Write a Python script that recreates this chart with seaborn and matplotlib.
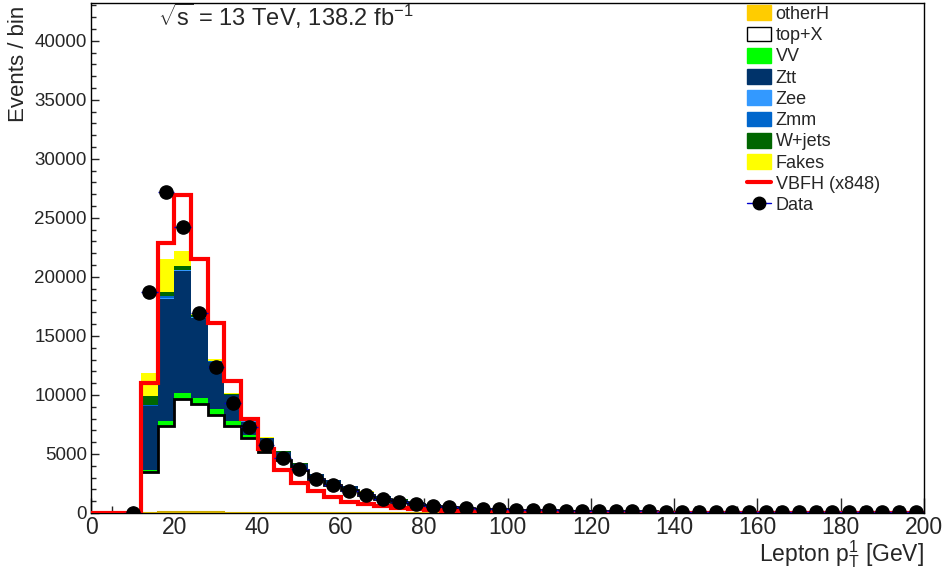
import numpy as np
import pandas as pd
import matplotlib
matplotlib.use("Agg")
import matplotlib.pyplot as plt
from matplotlib.patches import Patch
from matplotlib.lines import Line2D
from matplotlib.ticker import MultipleLocator
import seaborn as sns

# bins of 4 GeV from 8 to 200 GeV
edges = np.arange(8, 201, 4)
centers = edges[:-1] + 2

data = [0, 18700, 27200, 24200, 16900, 12350, 9300, 7300, 5800, 4650, 3730, 2850,
        2350, 1890, 1500, 1190, 930, 720, 620, 480, 380, 340, 310, 280,
        250, 225, 200, 185, 170, 158, 146, 135, 125, 116, 108, 100,
        95, 90, 85, 80, 75, 70, 66, 62, 59, 56, 53, 50]
vbfh = [0, 10990, 22900, 26950, 21500, 16080, 11210, 7940, 5450, 3680, 2520, 1890,
        1330, 960, 760, 590, 450, 350, 260, 180, 130, 100, 70, 55,
        45, 38, 32, 28, 24, 21, 18, 16, 14, 12, 11, 10,
        9, 8, 7, 7, 6, 6, 5, 5, 5, 4, 4, 4]
otherH = [0, 30, 50, 60, 50, 45, 40, 35, 30, 25, 20, 18,
          15, 12, 10, 8, 7, 6, 5, 4, 3, 3, 2, 2,
          1, 1, 1, 1, 1, 1, 1, 1, 1, 1, 1, 1,
          0, 0, 0, 0, 0, 0, 0, 0, 0, 0, 0, 0]
topX = [0, 3420, 7310, 9580, 9200, 8250, 7300, 6330, 5150, 4500, 3600, 2850,
        2350, 1900, 1500, 1200, 940, 740, 620, 490, 390, 340, 305, 275,
        245, 222, 198, 183, 168, 156, 144, 133, 123, 114, 106, 98,
        93, 88, 83, 78, 73, 68, 64, 60, 57, 54, 51, 48]
vv = [0, 220, 430, 560, 460, 480, 440, 270, 250, 130, 120, 100,
      90, 80, 65, 50, 40, 32, 26, 20, 16, 14, 12, 11,
      10, 9, 9, 8, 8, 7, 7, 6, 6, 5, 5, 5,
      4, 4, 4, 4, 3, 3, 3, 3, 3, 3, 3, 3]
ztt = [0, 5360, 10360, 10310, 6840, 4000, 2200, 1100, 900, 520, 420, 330,
       300, 270, 230, 190, 150, 120, 95, 75, 60, 50, 42, 36,
       32, 29, 26, 24, 22, 20, 18, 17, 16, 15, 14, 13,
       12, 11, 10, 10, 9, 9, 8, 8, 8, 7, 7, 7]
zee = [0, 60, 90, 50, 40, 30, 20, 15, 12, 10, 8, 6,
       5, 4, 3, 3, 2, 2, 2, 1, 1, 1, 1, 1,
       0, 0, 0, 0, 0, 0, 0, 0, 0, 0, 0, 0,
       0, 0, 0, 0, 0, 0, 0, 0, 0, 0, 0, 0]
zmm = [0, 90, 110, 60, 40, 30, 20, 15, 12, 10, 8, 6,
       5, 4, 3, 3, 2, 2, 2, 1, 1, 1, 1, 1,
       0, 0, 0, 0, 0, 0, 0, 0, 0, 0, 0, 0,
       0, 0, 0, 0, 0, 0, 0, 0, 0, 0, 0, 0]
wjets = [0, 710, 400, 290, 100, 80, 60, 40, 30, 25, 20, 15,
         12, 10, 8, 6, 5, 4, 3, 3, 2, 2, 2, 2,
         1, 1, 1, 1, 1, 1, 1, 1, 1, 1, 1, 1,
         1, 1, 1, 1, 1, 1, 1, 1, 1, 1, 1, 1]
fakes = [0, 1980, 2740, 1250, 120, 130, 60, 40, 30, 25, 20, 15,
         12, 10, 8, 6, 5, 4, 3, 3, 2, 2, 2, 2,
         0, 0, 0, 0, 0, 0, 0, 0, 0, 0, 0, 0,
         0, 0, 0, 0, 0, 0, 0, 0, 0, 0, 0, 0]

procs = ["otherH", "top+X", "VV", "Ztt", "Zee", "Zmm", "W+jets", "Fakes"]
values = [otherH, topX, vv, ztt, zee, zmm, wjets, fakes]
colors = {"otherH": "#ffcc00", "top+X": "#ffffff", "VV": "#00ff00", "Ztt": "#00336a",
          "Zee": "#3399ff", "Zmm": "#0066cc", "W+jets": "#006600", "Fakes": "#ffff00"}

rows = []
for name, vals in zip(procs, values):
    for c, v in zip(centers, vals):
        rows.append((float(c), float(v), name))
df = pd.DataFrame(rows, columns=["pt", "w", "process"])

sns.set_style("ticks")
plt.rcParams["font.family"] = ["Liberation Sans", "DejaVu Sans"]
plt.rcParams["mathtext.fontset"] = "custom"
plt.rcParams["mathtext.rm"] = "Liberation Sans"
plt.rcParams["mathtext.it"] = "Liberation Sans:italic"

fig = plt.figure(figsize=(9.49, 5.74), dpi=100)
ax = fig.add_axes([0.0959, 0.1063, 0.8778, 0.8885])

# seaborn stacks the first hue level on top, so give it top-down
sns.histplot(data=df, x="pt", weights="w", hue="process", hue_order=procs[::-1],
             multiple="stack", bins=[float(e) for e in edges], element="step",
             palette=colors, linewidth=0, alpha=1, legend=False, ax=ax)

# outline of top+X and the otherH line
ax.stairs(np.cumsum([otherH, topX], axis=0)[-1], edges, color="black", lw=2, baseline=None, zorder=3)
ax.stairs(otherH, edges, color="#ccaa00", lw=1.5, baseline=None, zorder=3)

# signal
ax.stairs([0] + vbfh, np.concatenate([[0], edges]), color="red", lw=3, baseline=None, zorder=4)

ax.errorbar(centers, data, xerr=2, yerr=np.sqrt(data), fmt="o", color="black",
            ms=9.5, ecolor="#0000cc", elinewidth=1, zorder=5)

ax.set_xlim(0, 200)
ax.set_ylim(0, 43200)
ax.xaxis.set_major_locator(MultipleLocator(20))
ax.xaxis.set_minor_locator(MultipleLocator(5))
ax.yaxis.set_major_locator(MultipleLocator(5000))
ax.yaxis.set_minor_locator(MultipleLocator(1000))
ax.tick_params(axis="x", which="major", direction="in", length=11, width=1, labelsize=16.5, pad=2)
ax.tick_params(axis="x", which="minor", direction="in", length=5, width=1)
ax.tick_params(axis="y", which="major", direction="in", length=6, width=1, labelsize=13.5, pad=3)
ax.tick_params(axis="y", which="minor", direction="in", length=3.5, width=1)
for s in ax.spines.values():
    s.set_visible(True)
    s.set_color("black")
    s.set_linewidth(1)

ax.set_xlabel(r"Lepton $\mathrm{p}_{\mathrm{T}}^{1}$ [GeV]", fontsize=16.5, loc="right")
ax.xaxis.set_label_coords(1.0, -0.05)
ax.set_ylabel("Events / bin", fontsize=16, loc="top")
ax.yaxis.set_label_coords(-0.075, 0.995)

ax.text(0.08, 0.955, r"$\sqrt{\mathrm{s}}$ = 13 TeV, 138.2 fb$^{-1}$", transform=ax.transAxes,
        fontsize=17, ha="left", va="baseline")

handles = [Patch(facecolor=colors[p], edgecolor="black" if p == "top+X" else colors[p], lw=1)
           for p in procs]
handles.append(Line2D([], [], color="red", lw=3))
handles.append(Line2D([], [], color="#0000cc", lw=1, marker="o", ms=9, mfc="black", mec="black"))
labels = procs + ["VBFH (x848)", "Data"]
ax.legend(handles, labels, loc="upper left", bbox_to_anchor=(0.786, 0.997), frameon=False,
          fontsize=13, handlelength=1.35, handleheight=0.88, handletextpad=0.25,
          labelspacing=0.2, borderpad=0.05, borderaxespad=0)

fig.savefig("out.png", dpi=100)
